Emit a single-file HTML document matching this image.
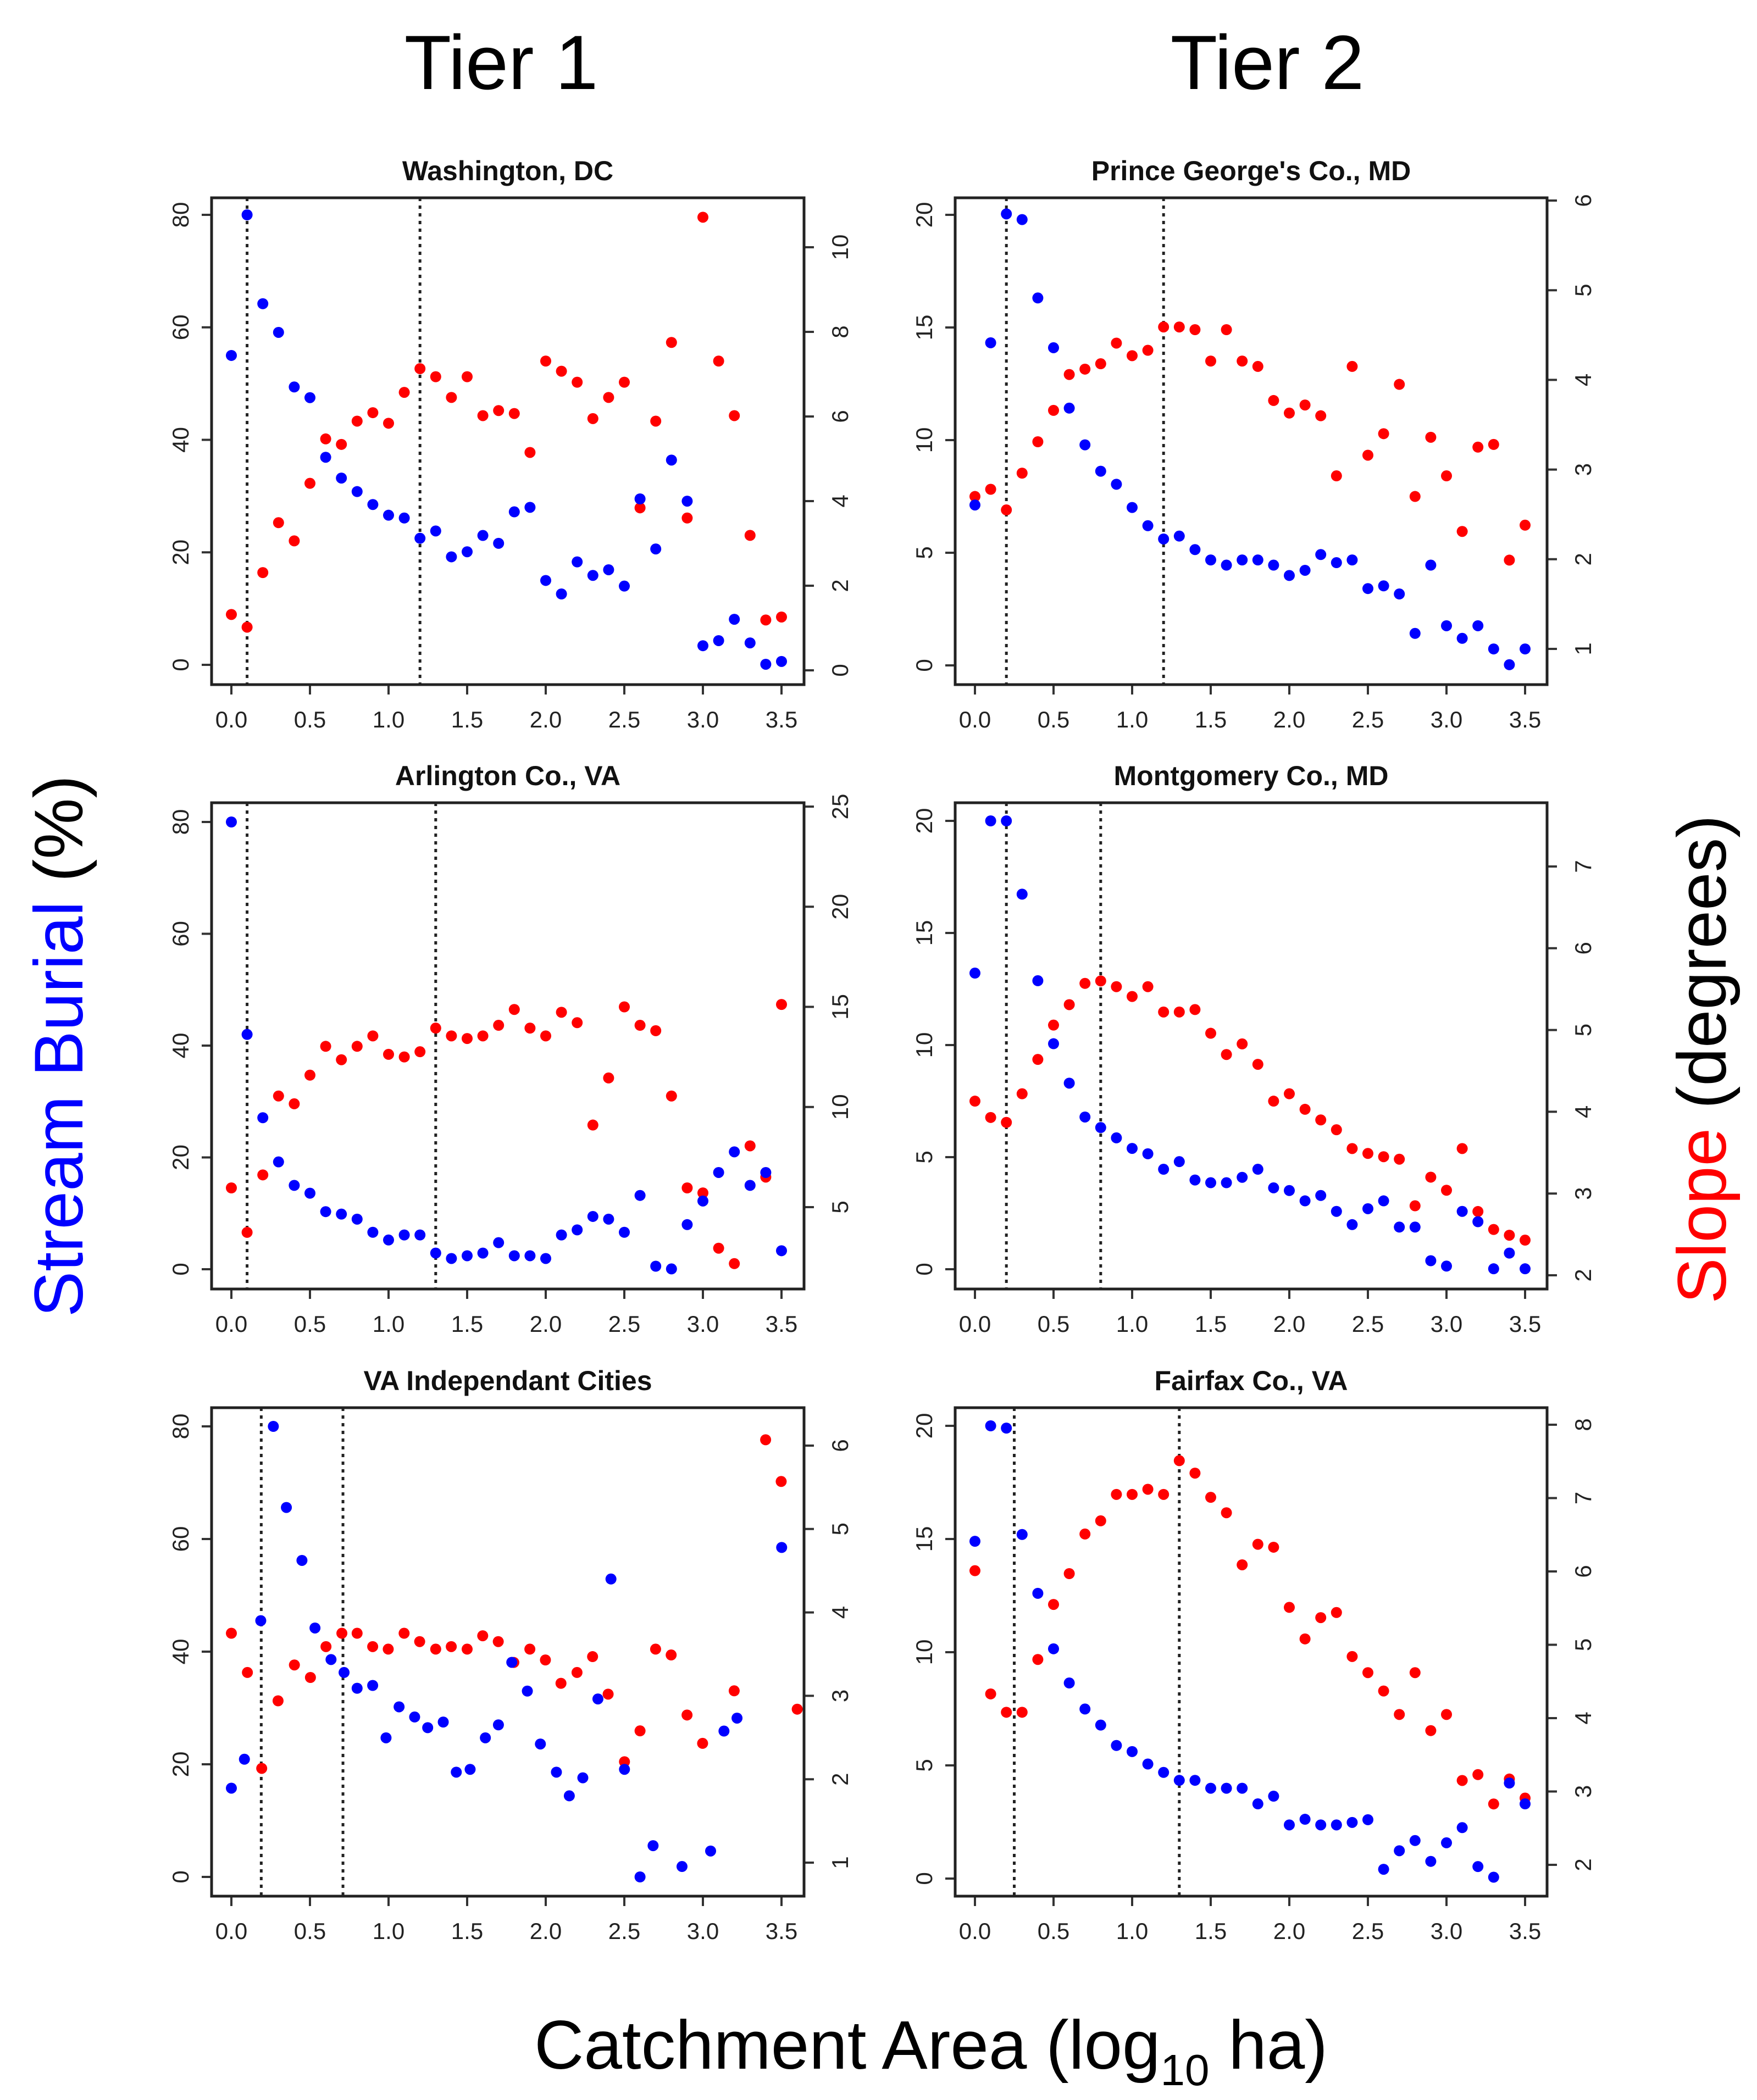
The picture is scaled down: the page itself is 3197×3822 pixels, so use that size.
<!DOCTYPE html>
<html><head><meta charset="utf-8"><style>
html,body{margin:0;padding:0;background:#fff}
svg{display:block}
text{font-family:"Liberation Sans",Arial,sans-serif}
</style></head><body>
<svg id="fig" xmlns="http://www.w3.org/2000/svg" width="3197" height="3822" viewBox="0 0 3197 3822">
<text x="912" y="162" font-size="140" text-anchor="middle" fill="#000">Tier 1</text>
<text x="2306" y="162" font-size="140" text-anchor="middle" fill="#000">Tier 2</text>
<text x="1694" y="3765" font-size="125" text-anchor="middle" fill="#000">Catchment Area (log<tspan font-size="80" dy="30">10</tspan><tspan dy="-30"> ha)</tspan></text>
<text transform="translate(150,1904) rotate(-90)" font-size="125" text-anchor="middle"><tspan fill="#0000ff">Stream Burial</tspan><tspan fill="#000"> (%)</tspan></text>
<text transform="translate(3140,1928) rotate(-90)" font-size="125" text-anchor="middle"><tspan fill="#ff0000">Slope</tspan><tspan fill="#000"> (degrees)</tspan></text>
</svg>
<script>
const bins = [0,0.1,0.2,0.3,0.4,0.5,0.6,0.7,0.8,0.9,1.0,1.1,1.2,1.3,1.4,1.5,1.6,1.7,1.8,1.9,2.0,2.1,2.2,2.3,2.4,2.5,2.6,2.7,2.8,2.9,3.0,3.1,3.2,3.3,3.4,3.5];
const xTicks = [0,0.5,1.0,1.5,2.0,2.5,3.0,3.5];
const xTickLabels = ["0.0","0.5","1.0","1.5","2.0","2.5","3.0","3.5"];
const titles = ["Washington, DC","Prince George's Co., MD","Arlington Co., VA","Montgomery Co., MD","VA Independant Cities","Fairfax Co., VA"];

const dcBurial = [55,80,64.2,59.1,49.4,47.5,36.9,33.2,30.8,28.5,26.6,26.1,22.5,23.8,19.2,20.1,23.0,21.6,27.2,28.0,15.0,12.6,18.3,15.9,16.9,14.0,29.5,20.6,36.4,29.1,3.4,4.3,8.1,3.9,0.1,0.6];
const dcSlope = [1.32,1.02,2.31,3.49,3.06,4.42,5.47,5.34,5.89,6.09,5.84,6.57,7.13,6.94,6.45,6.94,6.02,6.14,6.07,5.15,7.31,7.07,6.81,5.95,6.45,6.81,3.84,5.89,7.75,3.60,10.71,7.31,6.02,3.19,1.19,1.26];
const dcThresholds = [0.1,1.2];

const pgBurial = [7.12,14.32,20.04,19.79,16.31,14.10,11.42,9.79,8.62,8.04,7.01,6.20,5.61,5.74,5.14,4.68,4.45,4.68,4.68,4.45,3.99,4.22,4.92,4.56,4.68,3.41,3.53,3.17,1.42,4.45,1.76,1.20,1.76,0.73,0.03,0.73];
const pgSlope = [2.70,2.78,2.55,2.96,3.31,3.66,4.06,4.12,4.18,4.41,4.27,4.33,4.59,4.59,4.56,4.21,4.56,4.21,4.15,3.77,3.63,3.72,3.60,2.93,4.15,3.16,3.40,3.95,2.70,3.36,2.93,2.31,3.25,3.28,1.99,2.38];
const pgThresholds = [0.2,1.2];

const arBurial = [80,42.0,27.1,19.2,15.0,13.6,10.3,9.86,8.96,6.61,5.23,6.13,6.13,2.89,1.92,2.41,2.89,4.75,2.41,2.41,1.92,6.13,7.04,9.44,8.96,6.61,13.2,0.54,0.06,7.98,12.2,17.3,21.0,15.0,17.3,3.31];
const arSlope = [5.96,3.74,6.61,10.55,10.16,11.59,13.03,12.36,13.03,13.55,12.63,12.50,12.76,13.94,13.55,13.42,13.55,14.08,14.87,13.94,13.55,14.73,14.21,9.10,11.45,15.00,14.08,13.81,10.55,5.96,5.71,2.95,2.18,8.06,6.50,15.12];
const arThresholds = [0.1,1.3];

const moBurial = [13.21,20,20,16.73,12.87,10.06,8.30,6.79,6.32,5.86,5.39,5.15,4.46,4.80,3.98,3.86,3.86,4.10,4.46,3.63,3.51,3.05,3.29,2.58,1.99,2.70,3.05,1.88,1.88,0.38,0.14,2.58,2.12,0.02,0.72,0.02];
const moSlope = [4.13,3.93,3.87,4.22,4.64,5.06,5.31,5.57,5.60,5.53,5.41,5.53,5.22,5.22,5.25,4.96,4.70,4.83,4.58,4.13,4.22,4.03,3.90,3.78,3.55,3.49,3.45,3.42,2.85,3.20,3.04,3.55,2.78,2.56,2.49,2.43];
const moThresholds = [0.2,0.8];

const vaBurialX = [0,0.083,0.187,0.267,0.350,0.449,0.532,0.634,0.717,0.800,0.899,0.984,1.067,1.166,1.249,1.348,1.431,1.519,1.616,1.699,1.784,1.883,1.966,2.068,2.150,2.236,2.332,2.415,2.501,2.600,2.683,2.867,3.049,3.134,3.217,3.501];
const vaBurial = [15.76,20.9,45.5,80,65.6,56.2,44.2,38.6,36.3,33.5,34.0,24.7,30.2,28.4,26.5,27.5,18.6,19.1,24.7,27.0,38.1,33.0,23.6,18.6,14.4,17.6,31.6,52.9,19.1,0,5.55,1.85,4.60,25.9,28.2,58.5];
const vaSlopeX = [0,0.102,0.193,0.297,0.401,0.503,0.602,0.703,0.800,0.899,0.998,1.099,1.198,1.300,1.399,1.500,1.599,1.698,1.797,1.899,1.998,2.097,2.199,2.298,2.397,2.501,2.600,2.699,2.798,2.899,2.998,3.199,3.399,3.498,3.600];
const vaSlope = [3.75,3.28,2.13,2.94,3.37,3.22,3.59,3.75,3.75,3.59,3.56,3.75,3.65,3.56,3.59,3.56,3.72,3.65,3.40,3.56,3.43,3.15,3.28,3.47,3.02,2.21,2.58,3.56,3.49,2.77,2.43,3.06,6.07,5.57,2.84];
const vaThresholds = [0.19,0.71];

const ffBurial = [14.9,20,19.9,15.2,12.6,10.15,8.64,7.49,6.78,5.88,5.61,5.06,4.69,4.34,4.34,3.99,3.99,3.99,3.30,3.64,2.37,2.62,2.37,2.37,2.48,2.60,0.41,1.23,1.68,0.76,1.58,2.25,0.53,0.06,4.22,3.30];
const ffSlope = [6.01,4.33,4.08,4.08,4.80,5.55,5.97,6.51,6.69,7.05,7.05,7.12,7.05,7.51,7.34,7.01,6.80,6.09,6.37,6.33,5.51,5.08,5.37,5.44,4.84,4.62,4.37,4.05,4.62,3.83,4.05,3.15,3.23,2.83,3.17,2.91];
const ffThresholds = [0.25,1.3];

const leftTicks80 = [0,20,40,60,80];
const leftTicks20 = [0,5,10,15,20];
const rightTicksDC = [0,2,4,6,8,10];
const rightTicksPG = [1,2,3,4,5,6];
const rightTicksAR = [5,10,15,20,25];
const rightTicksMO = [2,3,4,5,6,7];
const rightTicksVA = [1,2,3,4,5,6];
const rightTicksFF = [2,3,4,5,6,7,8];

const NS = "http://www.w3.org/2000/svg";
const svg = document.getElementById('fig');
function mk(tag, attrs, parent){
  const e = document.createElementNS(NS, tag);
  for (const k in attrs) e.setAttribute(k, attrs[k]);
  (parent||svg).appendChild(e);
  return e;
}
function lin(v0,p0,v1,p1){ return v => p0 + (v - v0) * (p1 - p0) / (v1 - v0); }

const cols = [{l:385,r:1463,x0:421,x35:1422},{l:1738,r:2815,x0:1774,x35:2775}];
const rows = [{t:360,b:1246},{t:1461,b:2346},{t:2562,b:3451}];
const panels = [
 {c:0,r:0,title:titles[0],bx:bins,b:dcBurial,sx:bins,s:dcSlope,th:dcThresholds,lt:leftTicks80,rt:rightTicksDC,L:[0,1210,80,391],R:[0,1220,10,450]},
 {c:1,r:0,title:titles[1],bx:bins,b:pgBurial,sx:bins,s:pgSlope,th:pgThresholds,lt:leftTicks20,rt:rightTicksPG,L:[0,1211,20,391],R:[1,1181,6,365]},
 {c:0,r:1,title:titles[2],bx:bins,b:arBurial,sx:bins,s:arSlope,th:arThresholds,lt:leftTicks80,rt:rightTicksAR,L:[0,2310,80,1496],R:[5,2197,25,1468]},
 {c:1,r:1,title:titles[3],bx:bins,b:moBurial,sx:bins,s:moSlope,th:moThresholds,lt:leftTicks20,rt:rightTicksMO,L:[0,2310,20,1494],R:[2,2321,7,1577]},
 {c:0,r:2,title:titles[4],bx:vaBurialX,b:vaBurial,sx:vaSlopeX,s:vaSlope,th:vaThresholds,lt:leftTicks80,rt:rightTicksVA,L:[0,3416,80,2596],R:[1,3390,6,2631]},
 {c:1,r:2,title:titles[5],bx:bins,b:ffBurial,sx:bins,s:ffSlope,th:ffThresholds,lt:leftTicks20,rt:rightTicksFF,L:[0,3419,20,2595],R:[2,3394,8,2593]}
];

panels.forEach((p, i) => {
  const C = cols[p.c], Rw = rows[p.r];
  const g = mk('g', {});
  
  
  const xs = lin(0, C.x0, 3.5, C.x35);
  const yl = lin(p.L[0], p.L[1], p.L[2], p.L[3]);
  const yr = lin(p.R[0], p.R[1], p.R[2], p.R[3]);

  const t = mk('text', {x:(C.l+C.r)/2, y:Rw.t-32, 'font-size':50, 'font-weight':'bold', 'text-anchor':'middle', fill:'#111'}, g);
  t.textContent = p.title;
  
  

  p.th.forEach(v => {
    const ln = mk('line', {x1:xs(v), x2:xs(v), y1:Rw.t, y2:Rw.b, stroke:'#222', 'stroke-width':5, 'stroke-dasharray':'6 8'}, g);
    
    
  });

  xTicks.forEach((v, k) => {
    mk('line', {x1:xs(v), x2:xs(v), y1:Rw.b, y2:Rw.b+18, stroke:'#333', 'stroke-width':4}, g);
    const tl = mk('text', {x:xs(v), y:Rw.b+78, 'font-size':42, 'text-anchor':'middle', fill:'#222'}, g);
    tl.textContent = xTickLabels[k];
    
    
  });
  p.lt.forEach(v => {
    const y = yl(v);
    mk('line', {x1:C.l-18, x2:C.l, y1:y, y2:y, stroke:'#333', 'stroke-width':4}, g);
    const tl = mk('text', {transform:'translate(' + (C.l-42) + ',' + y + ') rotate(-90)', 'font-size':42, 'text-anchor':'middle', fill:'#222'}, g);
    tl.textContent = String(v);
    
    
  });
  p.rt.forEach(v => {
    const y = yr(v);
    mk('line', {x1:C.r, x2:C.r+18, y1:y, y2:y, stroke:'#333', 'stroke-width':4}, g);
    const tl = mk('text', {transform:'translate(' + (C.r+80) + ',' + y + ') rotate(-90)', 'font-size':42, 'text-anchor':'middle', fill:'#222'}, g);
    tl.textContent = String(v);
    
    
  });

  p.s.forEach((v, k) => {
    const c = mk('circle', {cx:xs(p.sx[k]), cy:yr(v), r:10, fill:'#ff0000'}, g);
    
    
  });
  p.b.forEach((v, k) => {
    const c = mk('circle', {cx:xs(p.bx[k]), cy:yl(v), r:10, fill:'#0000ff'}, g);
    
    
  });

  const fr = mk('rect', {x:C.l, y:Rw.t, width:C.r-C.l, height:Rw.b-Rw.t, fill:'none', stroke:'#222', 'stroke-width':5}, g);
  
  
});
</script>
</body></html>
